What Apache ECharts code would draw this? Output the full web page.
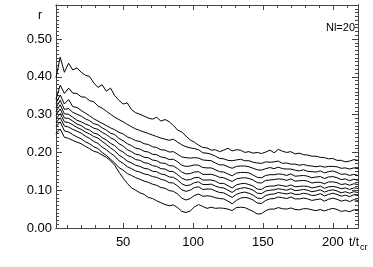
<!DOCTYPE html>
<html><head><meta charset="utf-8">
<script src="https://cdn.jsdelivr.net/npm/echarts@6/dist/echarts.min.js"></script>
<style>html,body{margin:0;padding:0;background:#fff}#c{width:373px;height:267px}</style>
</head><body><div id="c"></div>
<script>
var T = [2,5,8,11,14,17,20,23,26,29,32,35,38,41,44,47,50,53,56,59,62,65,68,71,74,77,80,83,86,89,92,95,98,101,104,107,110,113,116,119,122,125,128,131,134,137,140,143,146,149,152,155,158,161,164,167,170,173,176,179,182,185,188,191,194,197,200,203,206,209,212,215,218];
var L1 = [0.398,0.452,0.412,0.436,0.418,0.424,0.412,0.404,0.401,0.384,0.372,0.379,0.362,0.37,0.35,0.338,0.328,0.331,0.313,0.305,0.301,0.296,0.291,0.288,0.293,0.283,0.287,0.281,0.271,0.259,0.254,0.243,0.233,0.227,0.219,0.213,0.212,0.206,0.207,0.202,0.206,0.211,0.204,0.207,0.206,0.2,0.202,0.198,0.2,0.197,0.201,0.206,0.199,0.208,0.203,0.2,0.202,0.196,0.198,0.194,0.193,0.19,0.19,0.187,0.186,0.183,0.184,0.179,0.179,0.175,0.177,0.181,0.179];
var L2 = [0.34,0.378,0.356,0.37,0.357,0.356,0.347,0.346,0.337,0.334,0.323,0.317,0.309,0.301,0.293,0.287,0.281,0.274,0.268,0.262,0.258,0.254,0.25,0.246,0.242,0.238,0.235,0.232,0.235,0.227,0.22,0.215,0.212,0.21,0.207,0.199,0.198,0.195,0.19,0.184,0.183,0.179,0.178,0.18,0.182,0.178,0.178,0.174,0.172,0.171,0.175,0.174,0.175,0.177,0.171,0.172,0.169,0.169,0.166,0.168,0.165,0.164,0.162,0.164,0.161,0.163,0.163,0.162,0.158,0.159,0.156,0.159,0.157];
var L3 = [0.33,0.352,0.328,0.34,0.321,0.319,0.311,0.304,0.297,0.289,0.283,0.277,0.271,0.265,0.26,0.253,0.249,0.241,0.237,0.231,0.229,0.223,0.221,0.215,0.213,0.207,0.206,0.201,0.202,0.195,0.188,0.186,0.185,0.186,0.185,0.18,0.179,0.178,0.172,0.167,0.167,0.162,0.158,0.163,0.164,0.164,0.162,0.158,0.154,0.153,0.157,0.16,0.157,0.161,0.157,0.156,0.156,0.153,0.151,0.154,0.15,0.149,0.148,0.151,0.146,0.149,0.151,0.147,0.142,0.143,0.139,0.142,0.139];
var L4 = [0.318,0.338,0.314,0.316,0.306,0.301,0.296,0.289,0.284,0.276,0.273,0.265,0.259,0.251,0.247,0.237,0.231,0.223,0.218,0.211,0.209,0.203,0.201,0.195,0.194,0.188,0.186,0.181,0.182,0.175,0.166,0.163,0.164,0.167,0.166,0.16,0.159,0.159,0.154,0.149,0.148,0.143,0.138,0.145,0.147,0.147,0.146,0.14,0.134,0.133,0.139,0.141,0.141,0.143,0.142,0.139,0.143,0.137,0.138,0.139,0.137,0.133,0.135,0.136,0.131,0.135,0.136,0.133,0.128,0.13,0.125,0.129,0.126];
var L5 = [0.308,0.326,0.302,0.301,0.293,0.285,0.281,0.275,0.271,0.264,0.261,0.253,0.247,0.239,0.233,0.223,0.217,0.207,0.202,0.195,0.193,0.187,0.186,0.18,0.178,0.172,0.171,0.165,0.164,0.157,0.148,0.143,0.144,0.148,0.149,0.142,0.142,0.142,0.139,0.134,0.133,0.128,0.123,0.13,0.132,0.133,0.131,0.127,0.12,0.119,0.126,0.127,0.128,0.13,0.129,0.126,0.13,0.124,0.125,0.126,0.124,0.119,0.121,0.121,0.117,0.122,0.122,0.12,0.115,0.117,0.113,0.117,0.115];
var L6 = [0.298,0.315,0.291,0.29,0.283,0.275,0.271,0.263,0.259,0.251,0.248,0.239,0.233,0.224,0.218,0.207,0.201,0.192,0.188,0.181,0.179,0.173,0.171,0.165,0.163,0.157,0.156,0.15,0.149,0.141,0.132,0.127,0.128,0.133,0.134,0.127,0.127,0.127,0.124,0.118,0.118,0.112,0.106,0.114,0.117,0.118,0.115,0.111,0.103,0.102,0.109,0.111,0.111,0.114,0.112,0.11,0.114,0.109,0.11,0.111,0.11,0.106,0.108,0.111,0.105,0.109,0.11,0.108,0.104,0.106,0.102,0.106,0.105];
var L7 = [0.288,0.303,0.281,0.279,0.273,0.266,0.261,0.254,0.249,0.242,0.238,0.229,0.221,0.212,0.204,0.193,0.186,0.177,0.172,0.166,0.163,0.158,0.156,0.15,0.149,0.143,0.141,0.135,0.134,0.127,0.117,0.112,0.114,0.12,0.122,0.115,0.115,0.116,0.111,0.107,0.106,0.1,0.094,0.102,0.105,0.107,0.104,0.1,0.092,0.091,0.098,0.1,0.101,0.104,0.102,0.1,0.104,0.099,0.1,0.102,0.1,0.096,0.098,0.101,0.095,0.099,0.101,0.098,0.093,0.096,0.092,0.096,0.094];
var L8 = [0.278,0.292,0.27,0.267,0.261,0.256,0.251,0.243,0.237,0.229,0.224,0.214,0.207,0.198,0.19,0.178,0.171,0.162,0.157,0.151,0.148,0.143,0.141,0.136,0.134,0.129,0.126,0.12,0.119,0.111,0.101,0.097,0.1,0.107,0.109,0.102,0.103,0.103,0.098,0.094,0.093,0.087,0.081,0.089,0.093,0.095,0.092,0.087,0.079,0.078,0.086,0.089,0.09,0.094,0.092,0.09,0.093,0.089,0.089,0.092,0.09,0.086,0.087,0.091,0.085,0.089,0.092,0.089,0.084,0.087,0.083,0.088,0.086];
var L9 = [0.268,0.281,0.257,0.254,0.247,0.241,0.236,0.228,0.223,0.215,0.21,0.2,0.192,0.182,0.172,0.16,0.153,0.144,0.139,0.133,0.129,0.124,0.121,0.116,0.113,0.107,0.105,0.099,0.097,0.09,0.079,0.074,0.078,0.086,0.09,0.084,0.085,0.084,0.08,0.078,0.077,0.071,0.064,0.073,0.079,0.081,0.079,0.074,0.066,0.065,0.073,0.077,0.078,0.082,0.08,0.078,0.082,0.077,0.077,0.079,0.077,0.073,0.075,0.077,0.071,0.076,0.079,0.076,0.071,0.074,0.07,0.075,0.073];
var L10 = [0.25,0.262,0.24,0.237,0.232,0.227,0.223,0.216,0.21,0.203,0.2,0.193,0.187,0.178,0.166,0.148,0.132,0.118,0.106,0.1,0.093,0.089,0.081,0.078,0.072,0.067,0.062,0.059,0.061,0.054,0.044,0.041,0.045,0.056,0.062,0.057,0.052,0.055,0.052,0.053,0.052,0.05,0.046,0.054,0.055,0.054,0.049,0.044,0.037,0.038,0.046,0.05,0.05,0.054,0.051,0.05,0.053,0.049,0.048,0.051,0.051,0.048,0.046,0.049,0.045,0.049,0.052,0.049,0.044,0.046,0.043,0.048,0.046];
var xTickLabels = [50,100,150,200];
var yTickLabels = ['0.00','0.10','0.20','0.30','0.40','0.50'];
var yLabelTitle = 'r';
var xLabelMain = 't/t';
var xLabelSub = 'cr';
var noteText = 'Nl=20';

var lines = [L1,L2,L3,L4,L5,L6,L7,L8,L9,L10];
var XMIN = 2, XMAX = 218, YMIN = 0, YMAX = 0.59;
var xMinor = []; for (var v = 10; v <= 210; v += 10) xMinor.push(v);
var yMinor = []; for (var k = 1; k <= 58; k++) yMinor.push(+(k/100).toFixed(2));
var yMajor = yTickLabels.map(Number);
var axisCol = '#444';
var FONT = 'Liberation Sans';
function xa(pos, grid, ticks, len, labels) {
  return {type:'value', gridIndex:grid, position:pos, min:XMIN, max:XMAX,
    axisLine:{show:true, onZero:false, lineStyle:{color:axisCol, width:1}},
    axisTick:{show:true, inside:true, length:len, customValues:ticks, lineStyle:{color:axisCol}},
    axisLabel: labels ? {show:true, customValues:xTickLabels, fontSize:13, color:'#000', margin:8, fontFamily:FONT} : {show:false},
    splitLine:{show:false}};
}
function ya(pos, grid, ticks, len, labels) {
  return {type:'value', gridIndex:grid, position:pos, min:YMIN, max:YMAX,
    axisLine:{show:true, onZero:false, lineStyle:{color:axisCol, width:1}},
    axisTick:{show:true, inside:true, length:len, customValues:ticks, lineStyle:{color:axisCol}},
    axisLabel: labels ? {show:true, customValues:yMajor, fontSize:13, color:'#000', margin:4, fontFamily:FONT,
      formatter:function(v){return v.toFixed(2);}} : {show:false},
    splitLine:{show:false}};
}
var gridRect = {left:56, right:15, top:5, bottom:39};
var chart = echarts.init(document.getElementById('c'), null, {renderer:'canvas'});
chart.setOption({
  animation:false,
  backgroundColor:'#fff',
  grid:[Object.assign({}, gridRect), Object.assign({}, gridRect)],
  xAxis:[xa('bottom',0,xMinor,3,true), xa('top',0,xMinor,3,false), xa('bottom',1,xTickLabels,5,false), xa('top',1,xTickLabels,5,false)],
  yAxis:[ya('left',0,yMinor,3,true), ya('right',0,yMinor,3,false), ya('left',1,yMajor,6,false), ya('right',1,yMajor,6,false)],
  series: lines.map(function(L){
    return {type:'line', xAxisIndex:0, yAxisIndex:0, showSymbol:false, symbol:'none',
      lineStyle:{color:'#000', width:1}, data:T.map(function(t,i){return [t, L[i]];})};
  }),
  graphic:[
    {type:'text', left:38, top:10, style:{text:yLabelTitle, fontSize:12, fill:'#000', fontFamily:FONT}},
    {type:'text', right:18, top:22, style:{text:noteText, fontSize:11, fill:'#000', fontFamily:FONT}},
    {type:'text', left:349, top:237, style:{text:xLabelMain, fontSize:12, fill:'#000', fontFamily:FONT}},
    {type:'text', left:360, top:243, style:{text:xLabelSub, fontSize:9, fill:'#000', fontFamily:FONT}}
  ]
});
</script></body></html>
